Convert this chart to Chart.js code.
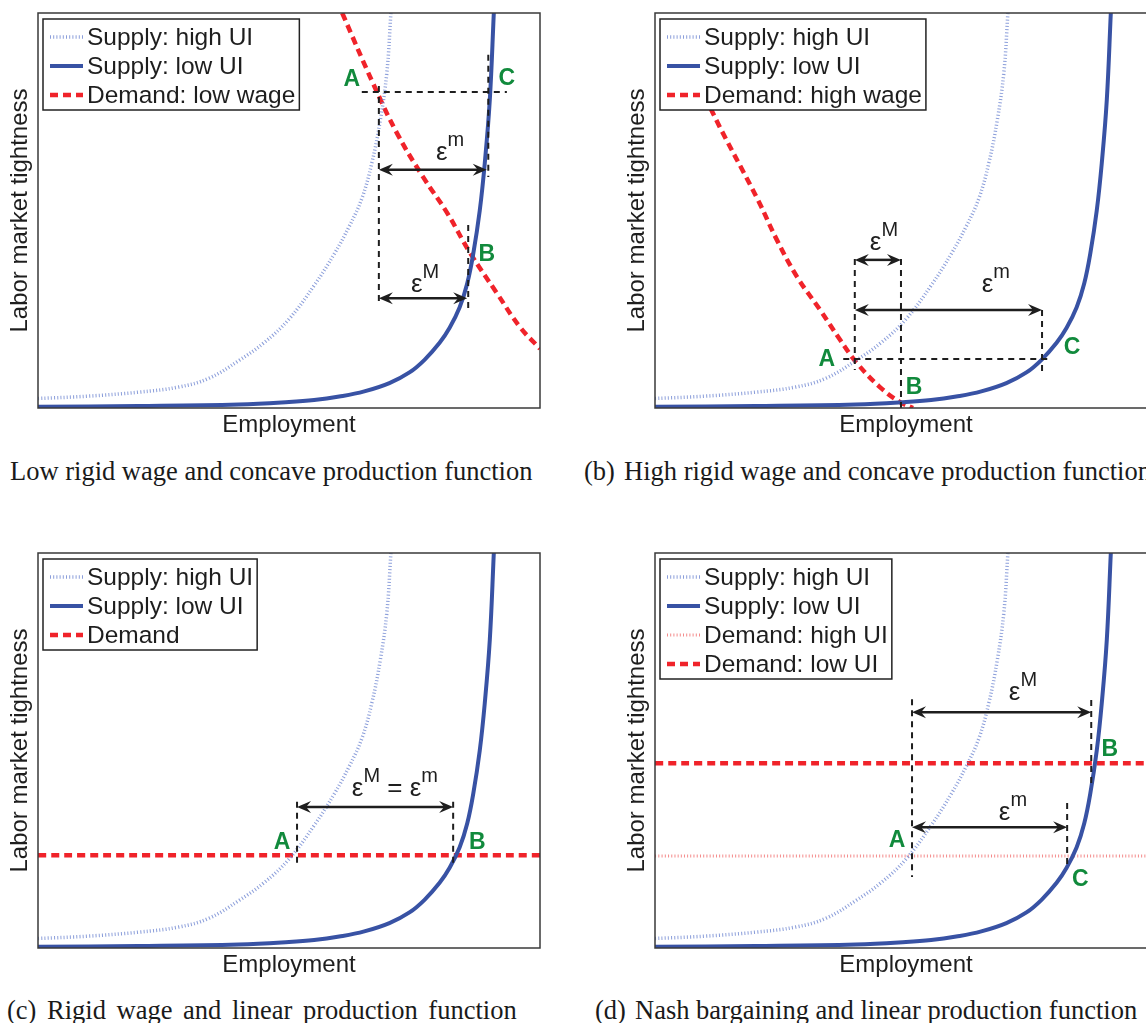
<!DOCTYPE html>
<html>
<head>
<meta charset="utf-8">
<script src="https://cdn.jsdelivr.net/npm/chart.js@4.4.1/dist/chart.umd.min.js"></script>
<style>
  html, body { margin: 0; padding: 0; background: #fff; overflow: hidden; }
  body { width: 1146px; height: 1023px; position: relative; }
  .panel { position: absolute; width: 573px; height: 450px; }
  .caption { position: absolute; white-space: nowrap; line-height: 1;
             font-family: 'Liberation Serif', 'Times New Roman', serif; font-size: 26.5px; color: #1a1a1a; }
  .caption span { display: inline-block; width: 40px; }
</style>
</head>
<body>
<div class="panel" style="left:0;top:0"><canvas id="chart-a" width="573" height="450"></canvas></div>
<div class="panel" style="left:617px;top:0"><canvas id="chart-b" width="573" height="450"></canvas></div>
<div class="panel" style="left:0;top:540px"><canvas id="chart-c" width="573" height="450"></canvas></div>
<div class="panel" style="left:617px;top:540px"><canvas id="chart-d" width="573" height="450"></canvas></div>

<div class="caption" style="left:-30px;top:458px"><span>(a)</span>Low rigid wage and concave production function</div>
<div class="caption" style="left:584px;top:458px"><span>(b)</span>High rigid wage and concave production function</div>
<div class="caption" style="left:7px;top:997px;word-spacing:4px"><span>(c)</span>Rigid wage and linear production function</div>
<div class="caption" style="left:595px;top:997px"><span>(d)</span>Nash bargaining and linear production function</div>

<script>
// --- Data (employment on x, labor market tightness on y, both 0..100) ---

// labor supply, low UI (solid blue)
const lowUiX = [0, 20, 40, 50, 55, 60, 65, 70, 74, 77, 80, 82, 84, 85.5, 86.7, 88, 89, 90, 90.8];
const lowUiY = [0.3, 0.5, 0.9, 1.5, 2.0, 2.9, 4.2, 6.3, 9.0, 12.2, 16.5, 20.3, 25.5, 31.5, 39, 50, 62, 78, 100];

// labor supply, high UI (dotted blue)
const highUiX = [0, 10, 20, 28, 34, 40, 45, 50, 55, 59, 62, 64.5, 66.5, 68.2, 69.5, 70.3];
const highUiY = [2.4, 3.0, 4.0, 5.3, 7.5, 12, 16.5, 22.5, 31, 39, 46, 53, 62, 73, 85, 100];

// (a) demand at low rigid wage
const demandLowWageX = [60.6, 66.7, 71.5, 76.7, 81.5, 86.1, 91.4, 96, 100];
const demandLowWageY = [100, 82.3, 69.6, 58.5, 49.4, 39.2, 29.1, 20.5, 15];

// (b) demand at high rigid wage
const demandHighWageX = [7, 11.4, 20.5, 24.3, 28.3, 32.9, 36.9, 40.2, 44.8, 48.8, 51.4];
const demandHighWageY = [88, 75, 52.7, 42.5, 33.2, 24.8, 17.2, 11.4, 5.3, 1.5, 0];

// (c) and (d) flat demand curves
const flatX = [0, 100];
const demandRigidY = [23.5, 23.5];
const demandHighUiY = [23.3, 23.3];
const demandLowUiY = [46.8, 46.8];

// annotations: dashed guides [x1, y1, x2, y2], arrows [x1, x2, y], eps labels, point labels
const guidesA = [[64.5, 80, 93.4, 80], [67.9, 81.5, 67.9, 26.8], [89.7, 89.4, 89.7, 58.5], [85.7, 46.3, 85.7, 25.3]];
const arrowsA = [[67.9, 89.4, 60.3], [67.9, 85.5, 27.8]];
const epsA = [[82.1, 64.5, [['ε', 'm']]], [77.1, 31.1, [['ε', 'M']]]];
const pointsA = [['A', 62.5, 83], ['C', 93.4, 83.5], ['B', 89.4, 38.7]];

const guidesB = [[37.5, 12.4, 78.7, 12.4], [39.8, 37.7, 39.8, 9.6], [49, 37.7, 49, 0], [77.1, 24.8, 77.1, 9.1]];
const arrowsB = [[39.8, 49, 37.5], [39.8, 77.1, 24.8]];
const epsB = [[45.6, 41.8, [['ε', 'M']]], [67.9, 31.1, [['ε', 'm']]]];
const pointsB = [['A', 34.2, 12.2], ['B', 51.6, 5.1], ['C', 83.1, 15.4]];

const guidesC = [[51.6, 37, 51.6, 20.3], [82.7, 37, 82.7, 20.3]];
const arrowsC = [[51.6, 82.7, 35.7]];
const epsC = [[71.1, 40.3, [['ε', 'M'], [' = ε', 'm']]]];
const pointsC = [['A', 48.6, 26.6], ['B', 87.5, 26.6]];

const guidesD = [[51.2, 63, 51.2, 18], [86.9, 62.8, 86.9, 40.8], [82.1, 36.7, 82.1, 21]];
const arrowsD = [[51.2, 86.9, 59.7], [51.2, 82.1, 30.6]];
const epsD = [[73.3, 64.6, [['ε', 'M']]], [71.3, 34.2, [['ε', 'm']]]];
const pointsD = [['A', 48.2, 27.3], ['B', 90.6, 50.1], ['C', 84.7, 17.2]];

// --- Styles ---
const SANS = '"Liberation Sans", Arial, Helvetica, sans-serif';
const BLUE = '#3852a4';
const BLUE_DOT = 'rgba(100, 125, 205, 0.75)';
const RED = '#f0232a';
const RED_DOT = 'rgba(240, 90, 90, 0.7)';
const GREEN = '#118a3c';
const INK = '#1e1e1e';

const pts = (xs, ys) => xs.map((x, i) => ({ x, y: ys[i] }));

const supplyHigh = () => ({ label: 'Supply: high UI', data: pts(highUiX, highUiY),
  borderColor: BLUE_DOT, borderWidth: 3.5, borderDash: [1, 2.2] });
const supplyLow = () => ({ label: 'Supply: low UI', data: pts(lowUiX, lowUiY),
  borderColor: BLUE, borderWidth: 4 });
const demandDash = (label, data) => ({ label, data, borderColor: RED, borderWidth: 4.5, borderDash: [8, 5] });

// --- Drawing helpers ---
function drawArrow(ctx, x1, x2, y) {
  const L = 14, W = 6;
  ctx.beginPath();
  ctx.moveTo(x1 + L * 0.6, y);
  ctx.lineTo(x2 - L * 0.6, y);
  ctx.stroke();
  [[x1, 1], [x2, -1]].forEach(([tx, d]) => {
    ctx.beginPath();
    ctx.moveTo(tx, y);
    ctx.lineTo(tx + d * L, y - W);
    ctx.lineTo(tx + d * L * 0.65, y);
    ctx.lineTo(tx + d * L, y + W);
    ctx.closePath();
    ctx.fill();
  });
}

function drawEps(ctx, cx, cy, parts) {
  const baseFont = '26px ' + SANS, supFont = '20px ' + SANS;
  let total = 0;
  const widths = parts.map(([b, s]) => {
    ctx.font = baseFont; const wb = ctx.measureText(b).width;
    ctx.font = supFont; const ws = ctx.measureText(s).width;
    total += wb + ws;
    return [wb, ws];
  });
  let x = cx - total / 2;
  ctx.textAlign = 'left';
  ctx.textBaseline = 'alphabetic';
  parts.forEach(([b, s], i) => {
    ctx.font = baseFont; ctx.fillText(b, x, cy + 7); x += widths[i][0];
    ctx.font = supFont; ctx.fillText(s, x, cy - 7); x += widths[i][1];
  });
}

const paperPlugin = {
  id: 'paper',
  afterDatasetsDraw(chart, args, opts) {
    const { ctx, chartArea: a, scales: { x, y } } = chart;
    const px = v => x.getPixelForValue(v), py = v => y.getPixelForValue(v);
    ctx.save();

    // dashed guides
    ctx.strokeStyle = INK; ctx.lineWidth = 2; ctx.setLineDash([6, 5]);
    opts.guides.forEach(([x1, y1, x2, y2]) => {
      ctx.beginPath(); ctx.moveTo(px(x1), py(y1)); ctx.lineTo(px(x2), py(y2)); ctx.stroke();
    });
    ctx.setLineDash([]);

    // double arrows
    ctx.lineWidth = 2.5; ctx.fillStyle = INK;
    opts.arrows.forEach(([x1, x2, yy]) => drawArrow(ctx, px(x1), px(x2), py(yy)));

    // epsilon labels
    opts.eps.forEach(([ex, ey, parts]) => drawEps(ctx, px(ex), py(ey), parts));

    // point labels
    ctx.fillStyle = GREEN; ctx.font = 'bold 23px ' + SANS;
    ctx.textAlign = 'center'; ctx.textBaseline = 'middle';
    opts.points.forEach(([t, lx, ly]) => ctx.fillText(t, px(lx), py(ly)));

    // frame
    ctx.strokeStyle = '#3a3a3a'; ctx.lineWidth = 1.5;
    ctx.strokeRect(a.left, a.top, a.right - a.left, a.bottom - a.top);

    // legend box
    const sets = chart.data.datasets;
    ctx.font = '24.5px ' + SANS;
    const tw = Math.max(...sets.map(d => ctx.measureText(d.label).width));
    const bx = a.left + 5, by = a.top + 6, bw = 44 + tw + 4, bh = sets.length * 29 + 4;
    ctx.fillStyle = '#fff'; ctx.fillRect(bx, by, bw, bh);
    ctx.strokeStyle = '#222'; ctx.lineWidth = 1.5; ctx.strokeRect(bx, by, bw, bh);
    sets.forEach((d, i) => {
      const ry = by + 18 + i * 29;
      ctx.strokeStyle = d.borderColor; ctx.lineWidth = d.borderWidth;
      ctx.setLineDash(d.borderDash || []);
      ctx.beginPath(); ctx.moveTo(bx + 7, ry); ctx.lineTo(bx + 40, ry); ctx.stroke();
      ctx.setLineDash([]);
      ctx.fillStyle = INK; ctx.textAlign = 'left'; ctx.textBaseline = 'middle';
      ctx.fillText(d.label, bx + 44, ry + 1);
    });

    // axis titles
    ctx.fillStyle = INK; ctx.font = '24px ' + SANS;
    ctx.textAlign = 'center'; ctx.textBaseline = 'middle';
    ctx.fillText('Employment', (a.left + a.right) / 2, a.bottom + 17);
    ctx.translate(20, (a.top + a.bottom) / 2);
    ctx.rotate(-Math.PI / 2);
    ctx.fillText('Labor market tightness', 0, 0);

    ctx.restore();
  }
};

function makeChart(id, datasets, notes) {
  return new Chart(document.getElementById(id), {
    type: 'line',
    data: { datasets },
    options: {
      responsive: false,
      animation: false,
      layout: { padding: { left: 38, top: 13, right: 33, bottom: 42 } },
      scales: {
        x: { type: 'linear', min: 0, max: 100, display: false },
        y: { type: 'linear', min: 0, max: 100, display: false }
      },
      elements: { point: { radius: 0 }, line: { tension: 0.4, fill: false } },
      plugins: { legend: { display: false }, tooltip: { enabled: false }, paper: notes }
    },
    plugins: [paperPlugin]
  });
}

makeChart('chart-a', [
  supplyHigh(), supplyLow(),
  demandDash('Demand: low wage', pts(demandLowWageX, demandLowWageY))
], { guides: guidesA, arrows: arrowsA, eps: epsA, points: pointsA });

makeChart('chart-b', [
  supplyHigh(), supplyLow(),
  demandDash('Demand: high wage', pts(demandHighWageX, demandHighWageY))
], { guides: guidesB, arrows: arrowsB, eps: epsB, points: pointsB });

makeChart('chart-c', [
  supplyHigh(), supplyLow(),
  demandDash('Demand', pts(flatX, demandRigidY))
], { guides: guidesC, arrows: arrowsC, eps: epsC, points: pointsC });

makeChart('chart-d', [
  supplyHigh(), supplyLow(),
  { label: 'Demand: high UI', data: pts(flatX, demandHighUiY), borderColor: RED_DOT, borderWidth: 3, borderDash: [1, 2.2] },
  demandDash('Demand: low UI', pts(flatX, demandLowUiY))
], { guides: guidesD, arrows: arrowsD, eps: epsD, points: pointsD });
</script>
</body>
</html>
